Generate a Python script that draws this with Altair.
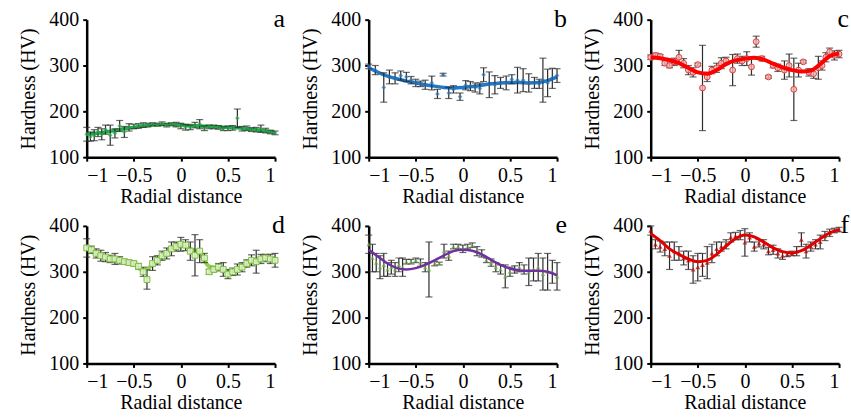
import altair as alt
import pandas as pd

# ---------------- data ----------------
fit_x = [-1.0, -0.9, -0.8, -0.7, -0.6, -0.5, -0.4, -0.3, -0.2, -0.1, 0.0,
         0.1, 0.2, 0.3, 0.4, 0.5, 0.6, 0.7, 0.8, 0.9, 1.0]

# panel a
a_x = [-1.0, -0.96, -0.92, -0.88, -0.84, -0.8, -0.75, -0.7, -0.65, -0.6, -0.55, -0.5, -0.45, -0.4,
       -0.35, -0.3, -0.25, -0.2, -0.15, -0.1, -0.05, 0.0, 0.05, 0.1, 0.15, 0.2, 0.25, 0.3, 0.35, 0.4,
       0.45, 0.5, 0.55, 0.6, 0.65, 0.7, 0.75, 0.8, 0.85, 0.9, 0.95, 1.0]
a_hv = [150, 145, 148, 155, 150, 160, 148, 152, 168, 155, 165, 167, 168, 170, 170, 172, 171, 173, 170,
        172, 171, 168, 165, 165, 170, 172, 163, 166, 166, 165, 162, 163, 164, 185, 162, 163, 160, 160,
        162, 158, 155, 153]
a_err = [15, 10, 12, 10, 12, 10, 22, 10, 12, 12, 8, 5, 5, 5, 4, 3, 3, 4, 4, 3, 5, 6, 6, 5, 6, 10, 5, 4,
         4, 4, 4, 5, 5, 20, 5, 5, 4, 5, 8, 5, 4, 4]
a_fit = [150, 152, 155, 158, 162, 165, 168, 170, 171, 171, 170, 169, 168, 167, 166, 165, 164, 162, 160,
         157, 154]

# panel b
b_x = [-1.0, -0.93, -0.84, -0.78, -0.72, -0.66, -0.6, -0.55, -0.5, -0.45, -0.4, -0.33, -0.27, -0.21,
       -0.15, -0.1, -0.03, 0.03, 0.08, 0.13, 0.18, 0.22, 0.28, 0.34, 0.4, 0.46, 0.52, 0.58, 0.64, 0.7,
       0.76, 0.81, 0.85, 0.9, 0.95, 1.0]
b_hv = [298, 290, 252, 275, 272, 278, 275, 268, 262, 260, 258, 262, 238, 280, 240, 248, 232, 257, 255,
        252, 250, 280, 258, 258, 262, 262, 270, 268, 268, 262, 262, 260, 268, 262, 272, 278]
b_err = [5, 10, 32, 15, 12, 10, 10, 8, 8, 6, 10, 15, 10, 3, 12, 8, 8, 10, 10, 10, 12, 15, 28, 20, 12,
         15, 10, 28, 25, 20, 12, 10, 48, 30, 22, 15]
b_fit = [295, 285, 277, 271, 266, 262, 258, 255, 252, 251, 252, 254, 257, 260, 262, 263, 263, 262, 263,
         267, 275]

# panel c
c_x = [-1.0, -0.95, -0.9, -0.85, -0.8, -0.75, -0.7, -0.65, -0.6, -0.55, -0.5, -0.45, -0.4, -0.35, -0.3,
       -0.25, -0.2, -0.13, -0.08, -0.03, 0.02, 0.07, 0.12, 0.18, 0.25, 0.3, 0.35, 0.42, 0.47, 0.52, 0.57,
       0.62, 0.68, 0.73, 0.78, 0.82, 0.86, 0.9, 0.95, 1.0]
c_hv = [318, 322, 320, 305, 300, 308, 318, 305, 290, 285, 302, 251, 275, 290, 295, 305, 310, 290, 315,
        310, 315, 297, 352, 315, 275, 300, 295, 290, 300, 248, 290, 308, 285, 282, 295, 300, 318, 330,
        322, 325]
c_err = [5, 5, 4, 5, 5, 8, 15, 10, 10, 10, 3, 93, 10, 8, 10, 12, 8, 34, 10, 10, 15, 18, 12, 5, 3, 5, 8,
         20, 25, 68, 15, 3, 8, 10, 25, 10, 10, 8, 10, 8]
c_fit = [318, 316, 312, 305, 295, 285, 282, 290, 303, 311, 315, 317, 313, 304, 296, 290, 287, 289, 303,
         320, 326]

# panel d
d_x = [-1.0, -0.95, -0.9, -0.85, -0.8, -0.75, -0.7, -0.65, -0.6, -0.55, -0.5, -0.45, -0.4, -0.36, -0.3,
       -0.25, -0.2, -0.15, -0.1, -0.05, 0.0, 0.05, 0.1, 0.15, 0.2, 0.25, 0.3, 0.35, 0.4, 0.45, 0.5, 0.55,
       0.6, 0.65, 0.7, 0.75, 0.8, 0.85, 0.9, 0.95, 1.0]
d_hv = [352, 348, 340, 335, 332, 328, 328, 325, 322, 320, 318, 312, 300, 283, 318, 325, 335, 340, 350,
        355, 360, 358, 345, 336, 345, 330, 300, 305, 310, 305, 295, 300, 305, 310, 318, 325, 322, 328,
        330, 328, 325]
d_err = [20, 8, 10, 12, 10, 8, 12, 8, 5, 5, 5, 6, 10, 21, 15, 10, 10, 12, 15, 10, 15, 12, 20, 45, 25,
         10, 5, 5, 8, 15, 10, 8, 12, 10, 8, 12, 25, 10, 8, 10, 15]
d_fit = [352, 340, 332, 327, 322, 317, 303, 315, 333, 350, 358, 350, 340, 312, 308, 300, 305, 315, 324,
         330, 327]

# panel e
e_x = [-1.0, -0.96, -0.92, -0.88, -0.84, -0.8, -0.76, -0.72, -0.68, -0.64, -0.6, -0.55, -0.5, -0.45,
       -0.4, -0.36, -0.3, -0.25, -0.2, -0.15, -0.1, -0.05, 0.0, 0.05, 0.1, 0.15, 0.2, 0.25, 0.3, 0.35,
       0.4, 0.45, 0.5, 0.55, 0.6, 0.65, 0.7, 0.75, 0.8, 0.85, 0.9, 0.95, 1.0]
e_hv = [360, 330, 320, 310, 315, 305, 310, 305, 315, 310, 322, 322, 325, 320, 310, 305, 318, 318, 345,
        335, 355, 355, 350, 355, 358, 345, 340, 325, 320, 310, 305, 290, 300, 305, 310, 305, 300, 305,
        310, 295, 300, 300, 290]
e_err = [20, 30, 20, 25, 25, 15, 15, 15, 15, 20, 5, 5, 5, 8, 10, 60, 5, 3, 15, 10, 5, 5, 8, 5, 5, 10,
         8, 5, 8, 10, 10, 25, 10, 8, 10, 10, 30, 25, 30, 35, 40, 25, 30]
e_fit = [348, 333, 318, 308, 305, 308, 315, 325, 336, 345, 348, 346, 338, 326, 315, 307, 303, 302, 302,
         300, 292]

# panel f
f_x = [-1.0, -0.95, -0.9, -0.85, -0.8, -0.75, -0.7, -0.65, -0.6, -0.55, -0.5, -0.45, -0.4, -0.35, -0.3,
       -0.25, -0.2, -0.15, -0.1, -0.05, 0.0, 0.05, 0.1, 0.15, 0.2, 0.25, 0.3, 0.35, 0.4, 0.45, 0.5, 0.55,
       0.6, 0.65, 0.7, 0.75, 0.8, 0.85, 0.9, 0.95, 1.0]
f_hv = [390, 360, 355, 350, 335, 345, 340, 330, 325, 305, 310, 315, 320, 340, 350, 355, 360, 375, 378,
        380, 364, 375, 355, 362, 360, 345, 348, 340, 335, 338, 340, 345, 370, 345, 355, 360, 365, 378,
        385, 390, 392]
f_err = [10, 10, 12, 15, 30, 20, 15, 15, 20, 30, 30, 25, 35, 20, 15, 10, 10, 10, 8, 10, 30, 10, 10, 8,
         10, 8, 10, 10, 8, 5, 5, 10, 15, 15, 10, 10, 15, 10, 8, 5, 5]
f_fit = [383, 368, 350, 338, 328, 322, 325, 338, 356, 372, 380, 376, 365, 352, 344, 341, 346, 358, 372,
         385, 392]

x_ticks = [-1, -0.5, 0, 0.5, 1]
y_ticks = [100, 200, 300, 400]
panel_letters = ["a", "b", "c", "d", "e", "f"]

FONT = "Liberation Serif, Times New Roman, DejaVu Serif, serif"

AXIS_STYLE = dict(
    grid=False, domainColor="black", domainWidth=2.5, tickColor="black", tickWidth=2, tickSize=4,
    labelFont=FONT, labelFontSize=20, labelColor="black", labelPadding=4,
    titleFont=FONT, titleFontSize=20, titleFontWeight="normal", titleColor="black",
)


def panel(letter, xs, hv, err, fit, point_mark, line_color, line_width, line_on_top):
    pts = pd.DataFrame({"x": xs, "hv": hv, "err": err})
    pts["lo"] = pts["hv"] - pts["err"]
    pts["hi"] = pts["hv"] + pts["err"]
    fdf = pd.DataFrame({"x": fit_x, "hv": fit})

    xscale = alt.Scale(domain=[-1, 1], nice=False, zero=False, padding=0)
    yscale = alt.Scale(domain=[100, 400], nice=False, zero=False, padding=0)
    xaxis = alt.Axis(values=x_ticks, format="~g", title="Radial distance", titlePadding=1,
                     **AXIS_STYLE)
    yaxis = alt.Axis(values=y_ticks, title="Hardness (HV)", titlePadding=10, **AXIS_STYLE)

    X = alt.X("x:Q", scale=xscale, axis=xaxis)
    Ylo = alt.Y("lo:Q", scale=yscale, axis=yaxis)
    Yhv = alt.Y("hv:Q", scale=yscale, axis=yaxis)

    bars = alt.Chart(pts).mark_errorbar(ticks=True, color="#2b2b2b", thickness=1.2, size=7).encode(
        x=X, y=Ylo, y2="hi:Q")
    points = alt.Chart(pts).mark_point(**point_mark).encode(x=X, y=Yhv)
    line = alt.Chart(fdf).mark_line(color=line_color, strokeWidth=line_width,
                                    interpolate="monotone").encode(x=X, y=Yhv)
    layers = [bars, points, line] if line_on_top else [line, bars, points]
    return alt.layer(*layers).properties(
        width=189, height=138,
        title=alt.TitleParams(text=letter, anchor="end", frame="group", font=FONT, fontSize=26,
                              fontWeight="normal", color="black", offset=-22, dx=10),
    )


pa = panel(panel_letters[0], a_x, a_hv, a_err, a_fit,
           dict(shape="diamond", filled=True, size=22, color="#2aa84a"), "#1fae4a", 3.5, False)
pb = panel(panel_letters[1], b_x, b_hv, b_err, b_fit,
           dict(shape="diamond", filled=True, size=22, color="#2e75b6"), "#1f78c8", 3.5, False)
pc = panel(panel_letters[2], c_x, c_hv, c_err, c_fit,
           dict(shape="circle", size=34, fill="#f3b3b3", stroke="#d9403f", strokeWidth=1,
                fillOpacity=0.8), "#ff0000", 4, True)
pd_ = panel(panel_letters[3], d_x, d_hv, d_err, d_fit,
            dict(shape="square", size=34, fill="#dff2c8", stroke="#7cbf3e", strokeWidth=1,
                 fillOpacity=0.9), "#92d050", 4, False)
pe = panel(panel_letters[4], e_x, e_hv, e_err, e_fit,
           dict(shape="triangle-up", filled=True, size=22, color="#70ad47"), "#7030a0", 2.5, True)
pf = panel(panel_letters[5], f_x, f_hv, f_err, f_fit,
           dict(shape="triangle-up", filled=True, size=24, color="#c00000"), "#e00000", 3, True)

chart = alt.concat(pa, pb, pc, pd_, pe, pf, columns=3, spacing={"row": 69, "column": 94},
                   bounds="flush").properties(
    padding={"left": 19, "top": 5, "right": 2, "bottom": 0},
    background="white",
).configure(font=FONT).configure_view(stroke=None).configure_scale(
    continuousPadding=0
).configure_axis(**AXIS_STYLE)

chart.save("out.html", embed_options={"renderer": "svg", "actions": False})
